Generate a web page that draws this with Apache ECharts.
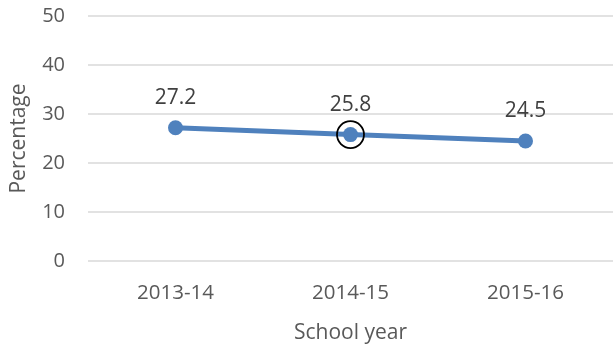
<!DOCTYPE html>
<html>
<head>
<meta charset="utf-8">
<script src="https://cdn.jsdelivr.net/npm/echarts@6/dist/echarts.min.js"></script>
<style>
  html, body { margin: 0; padding: 0; background: #fff; }
  #chart { width: 615px; height: 345px; }
</style>
</head>
<body>
<div id="chart"></div>
<script>
// values
var years = ['2013-14', '2014-15', '2015-16']
var percentages = [27.2, 25.8, 24.5]
var highlightYear = '2014-15'
var highlightValue = 25.8

var textColor = '#595959'
var font = 'Open Sans'

var chart = echarts.init(document.getElementById('chart'))
chart.setOption({
  animation: false,
  textStyle: { fontFamily: font },
  grid: { left: 88, right: 2, top: 16, bottom: 84, outerBoundsMode: 'none' },
  xAxis: {
    type: 'category',
    data: years,
    boundaryGap: true,
    name: 'School year',
    nameLocation: 'middle',
    nameGap: 62,
    nameTextStyle: { color: textColor, fontSize: 21, fontFamily: font },
    axisLine: { show: false },
    axisTick: { show: false },
    axisLabel: { color: textColor, fontSize: 20.5, margin: 22, fontFamily: font }
  },
  yAxis: {
    type: 'value',
    min: 0,
    max: 50,
    interval: 10,
    name: 'Percentage',
    nameLocation: 'middle',
    nameGap: 58,
    nameTextStyle: { color: textColor, fontSize: 21, fontFamily: font },
    axisLine: { show: false },
    axisTick: { show: false },
    axisLabel: { color: textColor, fontSize: 20, margin: 23, fontFamily: font },
    splitLine: { lineStyle: { color: '#d9d9d9', width: 1.5 } }
  },
  series: [{
    type: 'line',
    data: percentages,
    symbol: 'circle',
    symbolSize: 15,
    lineStyle: { color: '#4f81bd', width: 5 },
    itemStyle: { color: '#4f81bd' },
    label: {
      show: true,
      position: 'top',
      distance: 12,
      color: '#404040',
      fontSize: 21,
      fontFamily: font,
      formatter: function (p) { return p.value.toFixed(1) }
    },
    markPoint: {
      symbol: 'circle',
      symbolSize: 27,
      label: { show: false },
      itemStyle: { color: 'rgba(0,0,0,0)', borderColor: '#000', borderWidth: 1.8 },
      data: [{ coord: [highlightYear, highlightValue] }]
    }
  }]
})
</script>
</body>
</html>
